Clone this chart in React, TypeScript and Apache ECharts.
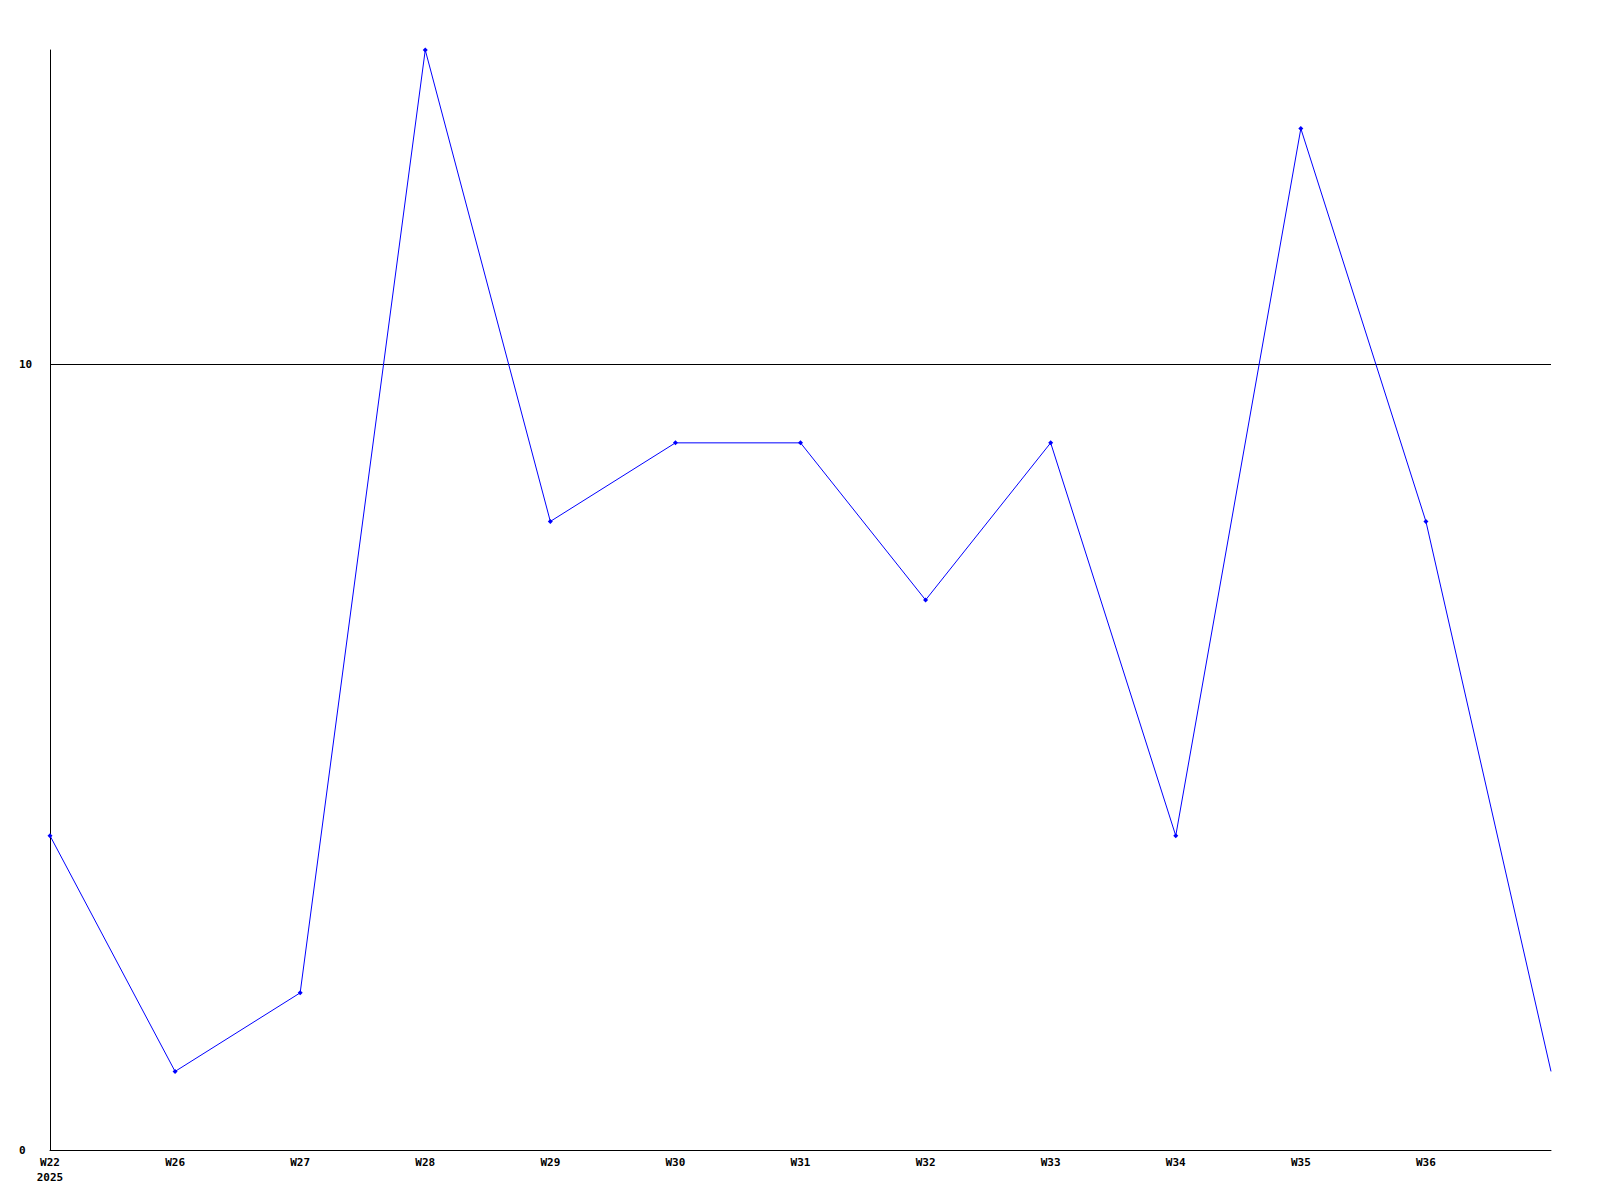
import React, { useEffect, useRef } from "react";
import * as echarts from "echarts";

const categories = ["W22\n2025", "W26", "W27", "W28", "W29", "W30", "W31", "W32", "W33", "W34", "W35", "W36", ""];
const values = [4, 1, 2, 14, 8, 9, 9, 7, 9, 4, 13, 8, 1];
const yTicks = [0, 10];

export default function App() {
  const ref = useRef<HTMLDivElement>(null);
  useEffect(() => {
    const chart = echarts.init(ref.current!, null, { renderer: "svg" });
    const font = { fontFamily: "DejaVu Sans Mono", fontWeight: "bold" as const, fontSize: 11, color: "#000" };
    chart.setOption({
      animation: false,
      backgroundColor: "#fff",
      grid: { left: 50, right: 49, top: 50, bottom: 50, containLabel: false },
      xAxis: {
        type: "category",
        data: categories,
        boundaryGap: false,
        axisLine: { lineStyle: { color: "#000", width: 1 } },
        axisTick: { show: false },
        axisLabel: { ...font, margin: 5, lineHeight: 15, interval: 0 },
        splitLine: { show: false },
      },
      yAxis: {
        type: "value",
        min: yTicks[0],
        max: 14,
        interval: yTicks[1] - yTicks[0],
        axisLine: { show: true, lineStyle: { color: "#000", width: 1 } },
        axisTick: { show: false },
        axisLabel: {
          ...font,
          align: "left",
          margin: 31,
          formatter: (v: number) => (yTicks.includes(v) ? String(v) : ""),
        },
        splitLine: { show: false },
      },
      series: [
        {
          type: "line",
          data: values.map((v, i) =>
            i === values.length - 1 ? { value: v, symbol: "none" } : v
          ),
          symbol: "diamond",
          symbolSize: 5,
          showAllSymbol: true,
          lineStyle: { color: "#0000ff", width: 1 },
          itemStyle: { color: "#0000ff" },
          z: 3,
          markLine: {
            silent: true,
            symbol: "none",
            label: { show: false },
            lineStyle: { color: "#000", width: 1, type: "solid" },
            data: yTicks.slice(1).map((t) => ({ yAxis: t })),
            z: 1,
          },
        },
      ],
    });
    return () => chart.dispose();
  }, []);
  return <div ref={ref} style={{ width: 1600, height: 1200, position: "absolute", left: 0, top: 0 }} />;
}
